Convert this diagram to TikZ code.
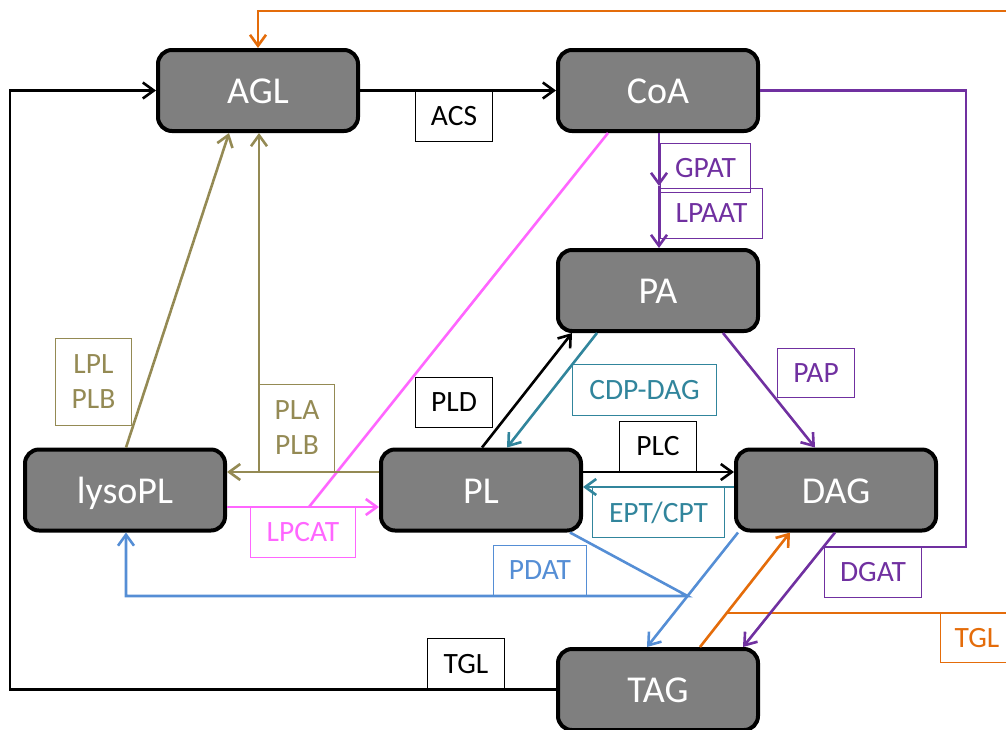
\documentclass[tikz,border=0pt]{standalone}
\usepackage{fontspec}
\setmainfont{Carlito}
\usetikzlibrary{arrows.meta}
\definecolor{olv}{HTML}{948A54}
\definecolor{pnk}{HTML}{FF66FF}
\definecolor{tel}{HTML}{31859C}
\definecolor{pur}{HTML}{7030A0}
\definecolor{blu}{HTML}{558ED5}
\definecolor{org}{HTML}{E46C0A}
\definecolor{boxgray}{HTML}{7F7F7F}
\begin{document}
\begin{tikzpicture}[x=1pt,y=-1pt,
  >={Straight Barb[length=11pt,width=16pt]},
  met/.style={draw=black, fill=boxgray, line width=4pt, rounded corners=14pt,
    minimum width=200pt, minimum height=81pt, text=white, inner sep=0pt,
    text height=26pt, text depth=0pt, font=\fontsize{38}{45}\selectfont},
  lab/.style={draw=#1, text=#1, line width=1.8pt, inner sep=0pt, align=center,
    font=\fontsize{29.5}{35}\selectfont},
  sz/.style 2 args={minimum width=#1pt, minimum height=#2pt},
  con/.style={draw=#1, line width=2.6pt}]
\useasboundingbox (0,0) rectangle (1006,729);
\clip (0,0) rectangle (1006,729);

% metabolite boxes
\node[met] (AGL) at (258,90.5) {AGL};
\node[met] (CoA) at (658,90.5) {CoA};
\node[met] (PA) at (658,290.5) {PA};
\node[met] (lysoPL) at (125,490) {lysoPL};
\node[met] (PL) at (481,490) {PL};
\node[met] (DAG) at (836,490) {DAG};
\node[met] (TAG) at (658,689.5) {TAG};

% helper coordinates
\coordinate (lb) at (10,689.5);
\coordinate (lt) at (10,90.5);
\coordinate (oj) at (727,613);
\coordinate (or1) at (1020,613);
\coordinate (or2) at (1020,11);
\coordinate (or3) at (258,11);
\coordinate (gm) at (659,186);
\coordinate (pj) at (823,547);
\coordinate (pr1) at (966,90.5);
\coordinate (pr2) at (966,547);
\coordinate (bj) at (687.5,596);
\coordinate (bl) at (126,596);
\coordinate (pkj) at (309,507);
\coordinate (oj2) at (259,472);

% black
\draw[con=black,->] (AGL.east) -- (CoA.west);
\draw[con=black,->] (TAG.west) -- (lb) -- (lt) -- (AGL.west);
\draw[con=black,->] ([yshift=18pt]PL.east) -- ([yshift=18pt]DAG.west);
\draw[con=black,->] ([xshift=1pt]PL.north) -- ([xshift=-86pt]PA.south);

% orange
\draw[con=org,->] ([xshift=42pt]TAG.north) -- ([xshift=-46pt]DAG.south);
\draw[con=org,->] (oj) -- (or1) -- (or2) -- (or3) -- (AGL.north);

% purple
\draw[con=pur,->] ([xshift=1pt]CoA.south) -- (gm);
\draw[con=pur,->] (gm) -- ([xshift=1pt]PA.north);
\draw[con=pur,->] ([xshift=65pt]PA.south) -- ([xshift=-21pt]DAG.north);
\draw[con=pur,->] ([xshift=-1pt]DAG.south) -- ([xshift=85pt]TAG.north);
\draw[con=pur] (CoA.east) -- (pr1) -- (pr2) -- (pj);

% blue
\draw[con=blu,->] ([xshift=-98pt]DAG.south) -- ([xshift=-11pt]TAG.north);
\draw[con=blu,->] ([xshift=89pt]PL.south) -- (bj) -- (bl) -- ([xshift=1pt]lysoPL.south);

% teal
\draw[con=tel,->] ([yshift=3pt]DAG.west) -- ([yshift=3pt]PL.east);
\draw[con=tel,->] ([xshift=-61pt]PA.south) -- ([xshift=26pt]PL.north);

% pink
\draw[con=pnk,->] ([yshift=-17pt]lysoPL.east) -- ([yshift=-17pt]PL.west);
\draw[con=pnk] ([xshift=-50pt]CoA.south) -- (pkj);

% olive
\draw[con=olv,->] ([yshift=18pt]PL.west) -- ([yshift=18pt]lysoPL.east);
\draw[con=olv,->] (oj2) -- ([xshift=1pt]AGL.south);
\draw[con=olv,->] ([xshift=1pt]lysoPL.north) -- ([xshift=-29pt]AGL.south);

% enzyme labels
\node[lab=black, sz={77}{51}] (ACS) at (454,116) {ACS};
\node[lab=black, sz={77}{51}] (TGLb) at (466,664) {TGL};
\node[lab=pur, sz={90}{49}] (GPAT) at (705.5,168) {GPAT};
\node[lab=pur, sz={102}{50}] (LPAAT) at (711.5,213.5) {LPAAT};
\node[lab=black, sz={77}{50}] (PLD) at (454,402.5) {PLD};
\node[lab=tel, sz={144}{51}] (CDP) at (644.5,390) {CDP-DAG};
\node[lab=pur, sz={77}{49}] (PAP) at (816,373) {PAP};
\node[lab=black, sz={77}{50}] (PLC) at (658,446.5) {PLC};
\node[lab=tel, sz={132}{50}] (EPT) at (658.5,512.5) {EPT/CPT};
\node[lab=olv, sz={76}{87}] (LPL) at (93.5,382) {LPL\\PLB};
\node[lab=olv, sz={75}{87}] (PLA) at (297,428) {PLA\\PLB};
\node[lab=pnk, sz={105}{50}] (LPCAT) at (303,532.5) {LPCAT};
\node[lab=blu, sz={93}{50}] (PDAT) at (540,570.5) {PDAT};
\node[lab=pur, sz={97}{50}] (DGAT) at (873,572.5) {DGAT};
\node[lab=org, sz={73}{49}] (TGLo) at (977,638) {TGL};
\end{tikzpicture}
\end{document}
